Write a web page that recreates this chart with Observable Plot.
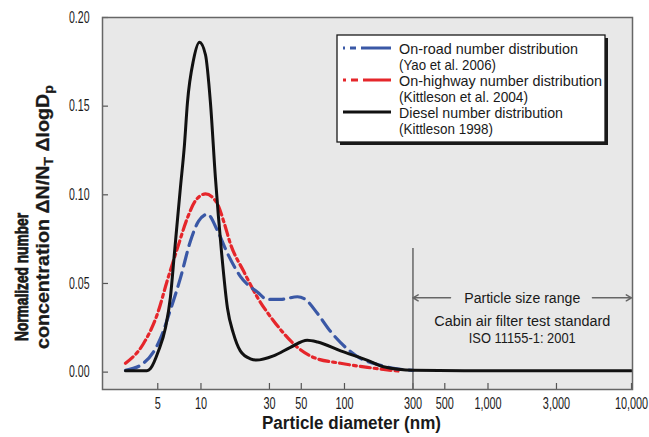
<!DOCTYPE html>
<html><head><meta charset="utf-8">
<script src="https://cdn.jsdelivr.net/npm/d3@7"></script>
<script src="https://cdn.jsdelivr.net/npm/@observablehq/plot@0.6"></script>
<style>body{margin:0;background:#fff}</style>
</head><body><div id="chart"></div>
<script>
const FONT = '"Liberation Sans", Arial, sans-serif';

// tick labels
const xTicks = [5, 10, 30, 50, 100, 300, 500, 1000, 3000, 10000];
const yTicks = [0, 0.05, 0.10, 0.15, 0.20];

// On-road number distribution (Yao et al. 2006)
const onRoadD = [2.98, 3.97, 5.22, 6.12, 7.19, 8.45, 9.6, 11.1, 13.0, 15.3, 18.8, 24.8, 29.1, 35.8, 47, 53.4, 64.9, 79.8, 105, 129, 159, 226, 300];
const onRoadV = [0.001, 0.005, 0.019, 0.035, 0.053, 0.074, 0.085, 0.089, 0.080, 0.067, 0.054, 0.045, 0.041, 0.041, 0.0425, 0.041, 0.033, 0.023, 0.013, 0.0077, 0.005, 0.002, 0.001];

// On-highway number distribution (Kittleson et al. 2004)
const onHighwayD = [2.98, 3.97, 4.98, 5.84, 6.86, 8.05, 9.16, 10.75, 13.0, 14.4, 16.1, 19.8, 24.8, 32, 37.6, 47, 60.8, 93.8, 144.5, 187, 244];
const onHighwayV = [0.005, 0.016, 0.033, 0.052, 0.070, 0.087, 0.0967, 0.1005, 0.095, 0.085, 0.072, 0.057, 0.042, 0.029, 0.022, 0.014, 0.0083, 0.005, 0.0027, 0.0015, 0.0005];

// Diesel number distribution (Kittleson 1998)
const dieselD = [2.98, 4.2, 4.45, 5.06, 5.66, 6.12, 6.53, 7.19, 7.67, 8.05, 8.87, 9.76, 10.75, 11.64, 12.6, 13.9, 15.3, 16.8, 18.8, 22.1, 24.3, 32, 42, 55, 65, 94, 145, 187, 303, 1000, 10000];
const dieselV = [0.0008, 0.0008, 0.002, 0.012, 0.025, 0.042, 0.067, 0.104, 0.128, 0.152, 0.176, 0.186, 0.179, 0.152, 0.110, 0.068, 0.036, 0.022, 0.012, 0.0075, 0.0068, 0.0092, 0.014, 0.018, 0.017, 0.012, 0.0066, 0.003, 0.001, 0.0008, 0.0008];

const seriesNames = ["On-road number distribution", "On-highway number distribution", "Diesel number distribution"];
const seriesRefs = ["(Yao et al. 2006)", "(Kittleson et al. 2004)", "(Kittleson 1998)"];
const seriesColors = ["#3a58a6", "#e5262b", "#111111"];
const seriesDash = ["14,7", "10,4,3,4", null];

const rangeBounds = [300, 10000];
const rangeLabel = "Particle size range";
const standardLines = ["Cabin air filter test standard", "ISO 11155-1: 2001"];
const xTitle = "Particle diameter (nm)";
const yTitle1 = "Normalized number";

// condensed look: target text widths (px)
const textWidths = {
  "Particle diameter (nm)": 179,
  "Particle size range": 116, "Cabin air filter test standard": 176, "ISO 11155-1: 2001": 107,
  "On-road number distribution": 179, "(Yao et al. 2006)": 97,
  "On-highway number distribution": 203, "(Kittleson et al. 2004)": 129,
  "Diesel number distribution": 164, "(Kittleson 1998)": 94
};

const fmtX = d3.format(","), fmtY = d3.format(".2f");
const rows = (d, v) => d.map((x, i) => ({x, y: v[i]}));
const mid = Math.sqrt(rangeBounds[0] * rangeBounds[1]);
const ink = "#1a1a1a";

const chart = Plot.plot({
  width: 649, height: 437,
  marginLeft: 102, marginRight: 17, marginTop: 17, marginBottom: 48,
  style: {fontFamily: FONT, fontSize: "15px", color: ink, background: "#fff"},
  x: {type: "log", domain: [2.06, 10160], axis: null},
  y: {domain: [-0.0098, 0.2], axis: null},
  marks: [
    Plot.frame({fill: "#e8e8e8", stroke: null}),
    Plot.tickX(xTicks, {x: d => d, insetTop: 366, stroke: "#555", strokeWidth: 1.2}),
    Plot.tickY(yTicks, {y: d => d, insetRight: 524, stroke: "#555", strokeWidth: 1.2}),
    Plot.text(xTicks, {x: d => d, frameAnchor: "bottom", lineAnchor: "top", dy: 8, text: fmtX, fontSize: 16, fill: ink}),
    Plot.text(yTicks, {y: d => d, frameAnchor: "left", textAnchor: "end", dx: -13, text: fmtY, fontSize: 16, fill: ink}),
    Plot.ruleX([rangeBounds[0]], {y1: 0.0697, y2: -0.0098, stroke: "#666", strokeWidth: 1.5}),
    Plot.arrow([{a: 548, b: rangeBounds[0]}, {a: 5345, b: rangeBounds[1]}], {x1: "a", x2: "b", y1: 0.0419, y2: 0.0419, stroke: "#666", strokeWidth: 1.5, headLength: 6}),
    Plot.text([rangeLabel], {x: mid, y: 0.0419, text: d => d, fontSize: 15.5, fill: ink}),
    Plot.text([standardLines[0]], {x: mid, y: 0.0286, text: d => d, fontSize: 15.5, fill: ink}),
    Plot.text([standardLines[1]], {x: mid, y: 0.0195, text: d => d, fontSize: 15.5, fill: ink}),
    Plot.line(rows(onHighwayD, onHighwayV), {x: "x", y: "y", stroke: seriesColors[1], strokeWidth: 3.2, strokeDasharray: seriesDash[1], curve: "monotone-x"}),
    Plot.line(rows(onRoadD, onRoadV), {x: "x", y: "y", stroke: seriesColors[0], strokeWidth: 3.2, strokeDasharray: seriesDash[0], curve: "monotone-x"}),
    Plot.line(rows(dieselD, dieselV), {x: "x", y: "y", stroke: seriesColors[2], strokeWidth: 3, curve: "monotone-x"}),
    Plot.text([xTitle], {frameAnchor: "bottom", dy: 39, dx: -16, text: d => d, fontSize: 18, fontWeight: "bold", fill: ink}),
    Plot.frame({stroke: "#666", strokeWidth: 1.5})
  ]
});
document.getElementById("chart").append(chart);

const svg = d3.select(chart);
// y-axis title (two lines, rotated, with subscripts), condensed along the text direction
const yt = svg.append("g").attr("font-family", FONT).attr("font-weight", "bold").attr("font-size", 18)
  .attr("fill", ink).attr("stroke", ink).attr("text-anchor", "middle");
const t1 = yt.append("text").attr("stroke-width", 0.8).text(yTitle1);
const t2 = yt.append("text").attr("stroke-width", 0.3);
t2.append("tspan").text("concentration \u0394N/N");
t2.append("tspan").attr("font-size", 13).attr("dy", 4).text("T");
t2.append("tspan").attr("dy", -4).text(" \u0394logD");
t2.append("tspan").attr("font-size", 13).attr("dy", 4).text("p");
const s1 = 128 / t1.node().getComputedTextLength();
const s2 = 264 / t2.node().getComputedTextLength();
t1.attr("transform", `translate(28,277) rotate(-90) scale(${s1},1)`);
t2.attr("transform", `translate(49,217) rotate(-90) scale(${s2},1)`);

// legend
const lg = svg.append("g").attr("font-family", FONT).attr("font-size", 15).attr("fill", ink).attr("text-anchor", "start");
lg.append("rect").attr("x", 340).attr("y", 38).attr("width", 268).attr("height", 107).attr("fill", ink);
lg.append("rect").attr("x", 337).attr("y", 35).attr("width", 268).attr("height", 107).attr("fill", "#fff").attr("stroke", ink).attr("stroke-width", 1.3);
const sampleY = [48, 80, 112];
const sampleDash = ["2,5,6,5,40", "3,5,7,5,40", null];
seriesNames.forEach((name, i) => {
  lg.append("line").attr("x1", 343).attr("x2", 391).attr("y1", sampleY[i]).attr("y2", sampleY[i])
    .attr("stroke", seriesColors[i]).attr("stroke-width", 3).attr("stroke-dasharray", sampleDash[i]);
  lg.append("text").attr("x", 399).attr("y", sampleY[i] + 5.5).text(name);
  lg.append("text").attr("x", 399).attr("y", sampleY[i] + 21.5).text(seriesRefs[i]);
});

// condense texts to the reference's narrow typeface widths
const xLabels = new Set(xTicks.map(fmtX)), yLabels = new Set(yTicks.map(fmtY));
svg.selectAll("text").each(function () {
  const s = this.textContent;
  let w = textWidths[s];
  if (!w && xLabels.has(s)) w = this.getComputedTextLength() * 0.68;
  if (!w && yLabels.has(s)) w = this.getComputedTextLength() * 0.66;
  if (w) { this.setAttribute("textLength", w); this.setAttribute("lengthAdjust", "spacingAndGlyphs"); }
});
</script>
</body></html>
